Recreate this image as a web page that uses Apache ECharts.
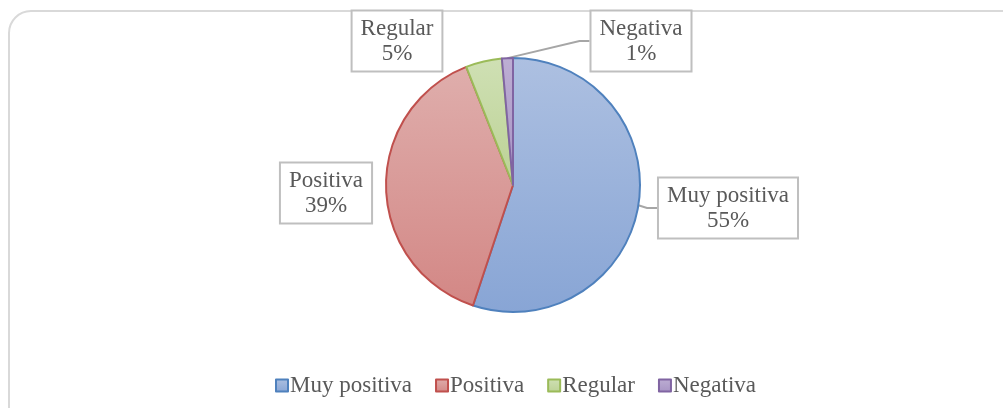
<!DOCTYPE html>
<html>
<head>
<meta charset="utf-8">
<script src="https://cdn.jsdelivr.net/npm/echarts@6/dist/echarts.min.js"></script>
<style>
  html, body { margin: 0; padding: 0; background: #ffffff; }
  #Chart { width: 1003px; height: 408px; }
</style>
</head>
<body>
<div id="Chart"></div>
<script>
// categorias y porcentajes
var categorias = ['Muy positiva', 'Positiva', 'Regular', 'Negativa'];
var valores = [55.1, 38.9, 4.6, 1.4];
var etiquetas = ['55%', '39%', '5%', '1%'];

// colores tipo Office (borde, arriba, abajo)
var bordes = ['#4f81bd', '#c0504d', '#9bbb59', '#8064a2'];
var claros = ['#adc0e1', '#dfaeac', '#cfe0b4', '#bdaed3'];
var oscuros = ['#88a5d5', '#d38785', '#bcd295', '#a794c4'];

// centro de cada caja de etiqueta
var cajas = [[728, 208], [326, 193], [397, 41], [641, 41]];
var conLinea = [true, false, false, true];

var fuente = '"Liberation Serif", "Times New Roman", serif';

function relleno(i) {
    return new echarts.graphic.LinearGradient(0, 0, 0, 1, [
        { offset: 0, color: claros[i] },
        { offset: 1, color: oscuros[i] }
    ]);
}

var datos = categorias.map(function (c, i) {
    return {
        name: c,
        value: valores[i],
        itemStyle: { color: relleno(i), borderColor: bordes[i] },
        labelLine: { show: conLinea[i] }
    };
});

var grafico = echarts.init(document.getElementById('Chart'));

var option = {
    backgroundColor: '#ffffff',
    animation: false,
    graphic: [{
        type: 'rect',
        shape: { x: 9, y: 11, width: 1030, height: 430, r: 22 },
        style: { fill: 'none', stroke: '#d9d9d9', lineWidth: 2 },
        z: -10
    }],
    legend: {
        data: categorias,
        top: 369,
        left: 270,
        itemWidth: 12,
        itemHeight: 12,
        itemGap: 23,
        icon: 'rect',
        textStyle: {
            fontFamily: fuente,
            fontSize: 23,
            color: '#595959',
            padding: [0, 0, 0, -3]
        }
    },
    series: [{
        type: 'pie',
        center: [513, 185],
        radius: 127,
        startAngle: 90,
        clockwise: true,
        data: datos,
        itemStyle: { borderWidth: 2 },
        emphasis: { disabled: true },
        label: {
            show: true,
            position: 'outside',
            formatter: function (p) {
                return p.name + '\n' + etiquetas[p.dataIndex];
            },
            fontFamily: fuente,
            fontSize: 23,
            lineHeight: 25,
            color: '#595959',
            align: 'center',
            backgroundColor: '#ffffff',
            borderColor: '#bfbfbf',
            borderWidth: 2,
            padding: [5, 8, 4, 8]
        },
        labelLine: {
            show: true,
            length: 10,
            length2: 10,
            lineStyle: { color: '#a6a6a6', width: 2 }
        },
        labelLayout: function (p) {
            var c = cajas[p.dataIndex];
            return { x: c[0], y: c[1], align: 'center', verticalAlign: 'middle' };
        }
    }]
};

grafico.setOption(option);
</script>
</body>
</html>
